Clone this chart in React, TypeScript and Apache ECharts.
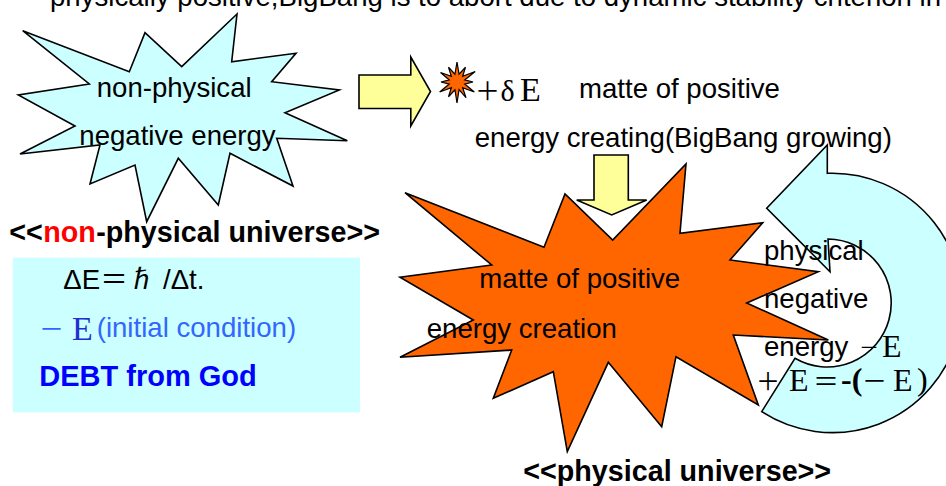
import React, { useEffect, useRef } from "react";
import * as echarts from "echarts";

const W = 946;
const H = 486;

const SANS = "'Liberation Sans', Arial, 'Noto Sans CJK JP', sans-serif";
const SERIF = "'Liberation Serif', 'Times New Roman', 'DejaVu Serif', serif";
const CJK = "'Noto Sans CJK JP', 'Noto Sans CJK SC', sans-serif";

// Shapes of the diagram (outline vertices)
const topStar: number[][] = [
  [22.7, 30.7], [129.3, 71.7], [145, 32.7], [181.7, 66.7], [237, 14], [231.7, 61.7],
  [296, 53.3], [271.7, 81.7], [339.3, 90], [285, 112.7], [347.3, 140.7], [276.7, 138.3],
  [293, 186], [230, 153.3], [218.3, 205], [178.3, 158.3], [146.7, 221.7], [135, 165],
  [90, 184], [100, 145], [20, 154], [75, 126], [18.3, 95], [89.3, 84],
];

const orangeStar: number[][] = [
  [405, 192.7], [544, 247.3], [565, 194], [612.7, 240], [686, 164], [680, 233.3],
  [762.7, 222.7], [730, 260], [818.3, 271.7], [746.7, 303], [828.3, 340], [733.3, 335],
  [758.3, 405], [676, 356.7], [661.7, 426.7], [608.3, 362.3], [567.3, 451.7], [553.3, 371.7],
  [493.3, 398.3], [511.7, 350], [400, 357.3], [473.3, 320], [400, 277.3], [491.7, 265],
];

const rightArrow: number[][] = [
  [359, 75], [410.8, 75], [410.8, 57], [430.5, 91.5], [410.8, 126], [410.8, 108.5], [359, 108.5],
];

const downArrow: number[][] = [
  [594, 155], [628.3, 155], [628.3, 200], [646.7, 200], [611.7, 215], [576.7, 200], [594, 200],
];

const smallStarRadii: number[] = [20, 8, 17, 8, 21, 8, 16, 8, 20, 8, 18, 8, 21, 8, 17, 8, 20, 8, 16, 8, 19, 8, 17, 8];

const circArrowPath =
  "M827.3 173.3 A129.7 129.7 0 1 1 761.7 411.7 L795 358.3 A64 64 0 1 0 828 239 L830 271.7 L766.7 208.3 L827.3 145 Z";

type T = { t: string; x: number; y: number; s?: number; c?: string; b?: boolean; f?: string };

const texts: T[] = [
  { t: "physically positive,BigBang is to abort due to dynamic stability criterion in", x: 50, y: -3.6 },
  { t: "non-physical", x: 96.7, y: 87.6 },
  { t: "negative energy", x: 79.3, y: 135.3 },
  { t: "＋", x: 475, y: 89, s: 25, f: CJK },
  { t: "δ", x: 500.5, y: 90, s: 30, f: SERIF },
  { t: "E", x: 520, y: 89, s: 34, f: SERIF },
  { t: "matte of positive", x: 579, y: 88.5 },
  { t: "energy creating(BigBang growing)", x: 474.7, y: 137 },
  { t: "<<", x: 9.3, y: 232, s: 28.7, b: true },
  { t: "non", x: 43.2, y: 232, s: 28.7, b: true, c: "#ff0000" },
  { t: "-physical universe>>", x: 96.2, y: 232, s: 28.7, b: true },
  { t: "ΔE＝ℏ /Δt.", x: 63.3, y: 279.5 },
  { t: "－", x: 39, y: 327, s: 25, f: CJK, c: "#3366ff" },
  { t: "E", x: 72, y: 328, s: 34, f: SERIF, c: "#1f2fd0" },
  { t: "(initial condition)", x: 96.7, y: 327, c: "#3366ff" },
  { t: "DEBT from God", x: 39.3, y: 375.7, s: 29, b: true, c: "#0000ff" },
  { t: "matte of positive", x: 479.3, y: 278.6 },
  { t: "energy creation", x: 426.7, y: 328.6 },
  { t: "physical", x: 764, y: 250.3 },
  { t: "negative", x: 764, y: 298.6 },
  { t: "energy", x: 764, y: 346 },
  { t: "－", x: 859, y: 346, s: 20, f: CJK },
  { t: "E", x: 882, y: 346, s: 32, f: SERIF },
  { t: "＋", x: 756, y: 379, s: 24, f: CJK },
  { t: "E", x: 789, y: 380, s: 32, f: SERIF },
  { t: "＝", x: 813, y: 379, s: 26, f: CJK },
  { t: "-(", x: 841, y: 379, s: 32, f: SERIF, b: true },
  { t: "－", x: 862, y: 379, s: 25, f: CJK },
  { t: "E", x: 893, y: 380, s: 32, f: SERIF },
  { t: ")", x: 917, y: 379, s: 32, f: SERIF },
  { t: "<<physical universe>>", x: 523.3, y: 470.5, s: 28.7, b: true },
];

function smallStarPoints(cx: number, cy: number): number[][] {
  const n = smallStarRadii.length;
  return smallStarRadii.map((r, i) => {
    const a = (i / n) * Math.PI * 2 - Math.PI / 2;
    return [cx + r * Math.cos(a), cy + r * Math.sin(a)];
  });
}

let registered = false;

export default function App() {
  const ref = useRef<HTMLDivElement>(null);
  useEffect(() => {
    if (!ref.current) return;
    if (!registered) {
      echarts.graphic.registerShape("circArrow", echarts.graphic.extendPath(circArrowPath, {}) as any);
      registered = true;
    }
    const chart = echarts.init(ref.current, undefined, { renderer: "svg", width: W, height: H });
    const stroke = { stroke: "#000", lineWidth: 1.6, lineJoin: "miter" as const };
    const elements: any[] = [
      { type: "rect", shape: { x: 12.7, y: 257.7, width: 347.3, height: 154.6 }, style: { fill: "#ccffff" } },
      { type: "polygon", shape: { points: topStar }, style: { fill: "#ccffff", ...stroke } },
      { type: "polygon", shape: { points: rightArrow }, style: { fill: "#ffff99", ...stroke } },
      { type: "polygon", shape: { points: smallStarPoints(457, 82) }, style: { fill: "#ff6600", stroke: "#000", lineWidth: 1.2 } },
      { type: "polygon", shape: { points: downArrow }, style: { fill: "#ffff99", ...stroke } },
      { type: "polygon", shape: { points: orangeStar }, style: { fill: "#ff6600", ...stroke } },
      { type: "circArrow", x: 0, y: 0, style: { fill: "#ccffff", ...stroke } },
    ];
    texts.forEach((d) => {
      elements.push({
        type: "text",
        x: d.x,
        y: d.y,
        style: {
          text: d.t,
          fill: d.c || "#000",
          fontSize: d.s || 27.6,
          fontFamily: d.f || SANS,
          fontWeight: d.b ? "bold" : "normal",
          align: "left",
          verticalAlign: "middle",
        },
      });
    });
    chart.setOption({
      animation: false,
      backgroundColor: "#ffffff",
      graphic: { elements },
    });
    return () => chart.dispose();
  }, []);
  return (
    <div
      ref={ref}
      style={{ position: "fixed", left: 0, top: 0, width: W, height: H, background: "#fff" }}
    />
  );
}
